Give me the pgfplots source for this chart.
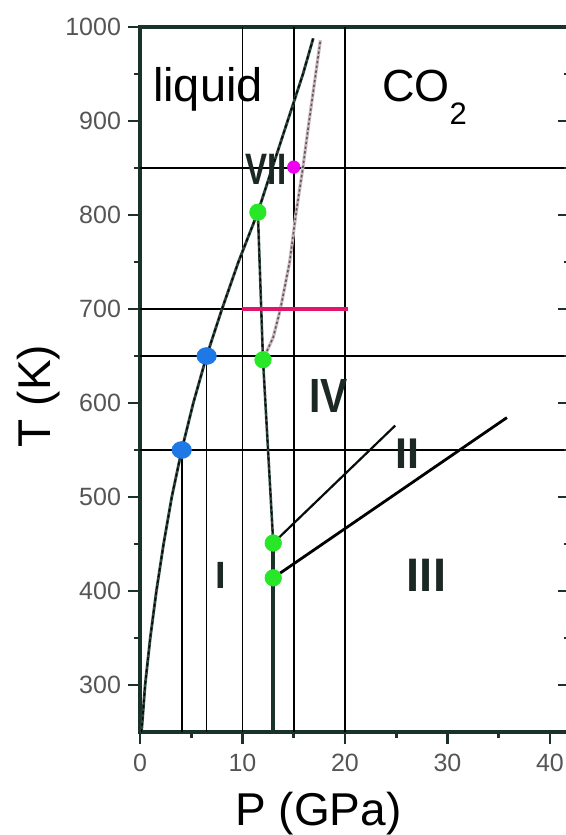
\documentclass[border=0pt]{standalone}
\usepackage{pgfplots}
\pgfplotsset{compat=1.18}
\usepackage{graphicx}
\usepackage{fontspec}
\setmainfont{Liberation Sans}
\definecolor{axiscol}{RGB}{25,50,42}
\definecolor{tickgray}{RGB}{85,85,85}
\definecolor{curvecol}{RGB}{45,70,62}
\definecolor{numcol}{RGB}{28,40,36}
\definecolor{ptgreen}{RGB}{40,230,40}
\definecolor{ptblue}{RGB}{30,120,230}
\definecolor{ptmag}{RGB}{240,0,240}
\definecolor{pinkline}{RGB}{225,20,110}
\definecolor{dotback}{RGB}{205,185,190}
\begin{document}
\begin{tikzpicture}
\begin{axis}[
  width=215.25pt, height=352.5pt, scale only axis,
  xmin=0, xmax=42, ymin=250, ymax=1000,
  clip=false,
  axis line style={line width=1.7pt, draw=axiscol},
  xtick={0,10,20,30,40}, minor xtick={5,15,25,35},
  ytick={300,400,...,1000}, minor ytick={350,450,...,950},
  xtick pos=left, ytick pos=left, tick align=outside,
  major tick length=6pt, minor tick length=3pt,
  tick style={line width=1.4pt, color=axiscol},
  ticklabel style={font=\fontsize{12.5}{12.5}\selectfont, text=tickgray},
  xticklabel style={yshift=-1.5pt},
  /pgf/number format/assume math mode=true,
  /pgf/number format/1000 sep={},
]
% thin reference lines
\addplot[black, line width=0.8pt] coordinates {(0,850) (42,850)};
\addplot[black, line width=0.8pt] coordinates {(0,650) (42,650)};
\addplot[black, line width=0.8pt] coordinates {(0,550) (42,550)};
\addplot[black, line width=0.8pt] coordinates {(0,700) (10,700)};
\addplot[black, line width=0.8pt] coordinates {(4.07,250) (4.07,550)};
\addplot[black, line width=0.8pt] coordinates {(6.5,250) (6.5,650)};
\addplot[black, line width=0.8pt] coordinates {(10,250) (10,1000)};
\addplot[black, line width=0.8pt] coordinates {(15.05,250) (15.05,1000)};
\addplot[black, line width=0.8pt] coordinates {(20,250) (20,1000)};
% dotted boundary
\addplot[dotback, line width=1.6pt] coordinates {(12.0,646) (13.0,670) (13.7,700) (14.6,750) (15.2,800) (15.9,851) (16.5,900) (17.6,986)};
\addplot[black!65, line width=0.8pt, dash pattern=on 1.2pt off 1.2pt] coordinates {(12.0,646) (13.0,670) (13.7,700) (14.6,750) (15.2,800) (15.9,851) (16.5,900) (17.6,986)};
% melting curve
\addplot[curvecol, line width=1.4pt] coordinates {(0.15,250) (0.5,300) (1.0,350) (1.6,400) (2.3,450) (3.1,500) (4.07,550) (5.2,600) (6.5,650) (8.0,700) (9.6,750) (11.5,803) (12.9,850) (14.4,900) (15.9,950) (16.9,988)};
\addplot[black, line width=0.7pt, dash pattern=on 1.5pt off 1.5pt] coordinates {(0.15,250) (0.5,300) (1.0,350) (1.6,400) (2.3,450) (3.1,500) (4.07,550) (5.2,600) (6.5,650) (8.0,700) (9.6,750) (11.5,803) (12.9,850) (14.4,900) (15.9,950) (16.9,988)};
% VII/IV/I boundary
\addplot[curvecol, line width=1.3pt] coordinates {(11.5,803) (12.0,646) (13.0,451)};
\addplot[black, line width=0.6pt, dash pattern=on 1.5pt off 1.5pt] coordinates {(11.5,803) (12.0,646) (13.0,451)};
\addplot[axiscol, line width=2.2pt] coordinates {(13.0,451) (13.0,250)};
% II and III boundaries
\addplot[black!75!axiscol, line width=1.1pt] coordinates {(13.0,451) (24.9,576)};
\addplot[black, line width=1.4pt] coordinates {(13.0,414) (35.8,584.5)};
% pink segment
\addplot[pinkline, line width=2.4pt] coordinates {(10,700) (20.3,700)};
% markers
\addplot[only marks, mark=*, mark size=4.2pt, mark options={draw=ptblue, fill=ptblue, xscale=1.15}] coordinates {(4.07,550) (6.5,650)};
\addplot[only marks, mark=*, mark size=4.1pt, mark options={draw=ptgreen, fill=ptgreen}] coordinates {(11.5,803) (12.0,646) (13.0,451) (13.0,414)};
\addplot[only marks, mark=*, mark size=3.1pt, mark options={draw=ptmag, fill=ptmag}] coordinates {(15.0,851)};
% texts
\node[anchor=base, inner sep=0pt] at (axis cs:6.63,920.4) {\fontsize{23.5}{26}\selectfont liquid};
\node[anchor=base west, inner sep=0pt] at (axis cs:23.58,920.4) {\fontsize{22.5}{25}\selectfont CO\raisebox{-11.2pt}{\fontsize{15.5}{16}\selectfont 2}};
\node[anchor=base, inner sep=0pt, text=numcol] at (axis cs:12.3,832) {\fontsize{22}{24}\selectfont\bfseries\scalebox{0.75}[1]{VII}};
\node[anchor=base, inner sep=0pt, text=numcol] at (axis cs:18.4,590) {\fontsize{24}{26}\selectfont\bfseries\scalebox{0.85}[1]{IV}};
\node[anchor=base, inner sep=0pt, text=numcol] at (axis cs:26.1,530) {\fontsize{21.5}{24}\selectfont\bfseries II};
\node[anchor=base, inner sep=0pt, text=numcol] at (axis cs:27.95,399) {\fontsize{23.5}{26}\selectfont\bfseries III};
\node[anchor=base, inner sep=0pt, text=numcol] at (axis cs:7.85,403) {\fontsize{19}{22}\selectfont\bfseries I};
% axis labels
\node[rotate=90, anchor=base, inner sep=0pt] at (axis cs:-8.78,607.4) {\fontsize{23}{26}\selectfont T (K)};
\node[anchor=base, inner sep=0pt] at (axis cs:17.4,150.5) {\fontsize{23}{26}\selectfont P (GPa)};
\end{axis}
\begin{axis}[
  width=215.25pt, height=352.5pt, scale only axis,
  xmin=0, xmax=42, ymin=250, ymax=1000,
  axis line style={draw=none},
  xtick=\empty, minor xtick={5,10,...,40},
  ytick={300,400,...,1000}, minor ytick={350,450,...,950},
  xtick pos=right, ytick pos=right, tick align=inside,
  major tick length=6.5pt, minor tick length=3.5pt,
  tick style={line width=1.4pt, color=axiscol},
  xticklabels={}, yticklabels={},
]
\addplot[draw=none] coordinates {(0,250)};
\end{axis}
\pgfresetboundingbox
\path ([shift={(-70pt,-51.5pt)}]current axis.south west) rectangle ([shift={(213pt,366pt)}]current axis.south west);
\end{tikzpicture}
\end{document}
